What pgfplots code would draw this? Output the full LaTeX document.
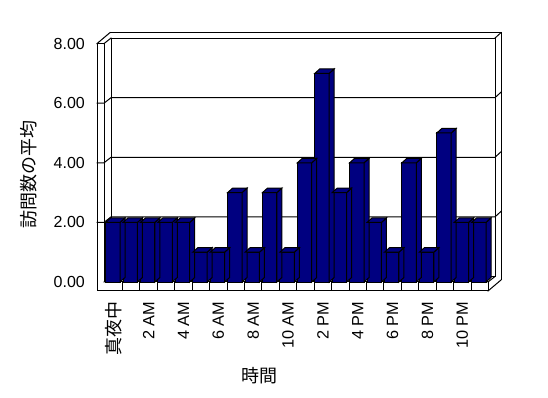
\documentclass[border=0pt]{standalone}
\usepackage{fontspec}
\setmainfont{Liberation Sans}
\newfontfamily\jp{Noto Sans CJK JP}
\usepackage{pgfplots}
\usepackage{pgfplotstable}
\pgfplotsset{compat=1.18}
\definecolor{navy}{HTML}{000080}
\pgfdeclareplotmark{nothing}{}
\pgfplotstableread{
x v
0 2
1 2
2 2
3 2
4 2
5 1
6 1
7 3
8 1
9 3
10 1
11 4
12 7
13 3
14 4
15 2
16 1
17 4
18 1
19 5
20 2
21 2
}\datatable
\begin{document}
\begin{tikzpicture}
\fill[white] (0,0) rectangle (548bp,398bp);
% walls and floor in image pixel coordinates
\begin{scope}[x=1bp,y=-1bp,shift={(0bp,398bp)},line width=1bp,line join=miter,line cap=rect]
  \draw (111,38.1) rectangle (495,276.5);
  \draw (110,32.6) -- (501,32.6);
  \draw (495,38.1) -- (501,32.6);
  \draw (501,32.6) -- (501,280);
  \draw (97,43.6) -- (97,291) -- (488,291) -- (488,282) -- (104,282) -- (104,43.6) -- cycle;
  \draw (97,43.6) -- (110,32.6);
  \draw (104,43.6) -- (111,38.1);
  \draw (104,282) -- (111,276.5);
  \draw (488,282) -- (495,276.5);
  \draw (488,291) -- (501,280);
  \foreach \v in {2,4,6} {
    \pgfmathsetmacro\yv{282-29.8*\v}
    \draw (97,\yv) -- (104,\yv) -- (111,\yv-5.5) -- (495,\yv-5.5) -- (501,\yv-11);
  }
  \foreach \k in {1,...,21} {
    \pgfmathsetmacro\xk{105+17.43*\k}
    \draw (\xk,282) -- (\xk,291);
  }
\end{scope}
\begin{axis}[
  at={(105bp,116bp)}, anchor=south west,
  x=17.43bp, y=29.8bp,
  xmin=-0.5, xmax=21.5, ymin=0, ymax=8,
  axis line style={draw=none},
  major tick length=0pt,
  xtick={0,2,...,20},
  xticklabels={{\jp\fontsize{18bp}{20bp}\selectfont 真夜中},2 AM,4 AM,6 AM,8 AM,10 AM,2 PM,4 PM,6 PM,8 PM,10 PM},
  ytick={0,2,4,6,8},
  yticklabels={0.00,2.00,4.00,6.00,8.00},
  yticklabel style={font=\fontsize{16bp}{18bp}\selectfont, anchor=east, inner sep=0pt, xshift=-20bp},
  xticklabel style={font=\fontsize{16.3bp}{18bp}\selectfont, yshift=-19.5bp, rotate=90, anchor=east, inner sep=0pt},
  clip=false,
]
\addplot[scatter, only marks, mark=nothing, point meta=y,
  visualization depends on={rawy\as\val},
  scatter/@pre marker code/.code={%
    \begingroup
    \pgfkeys{/pgf/fpu=true,/pgf/fpu/output format=fixed}%
    \pgfmathparse{\val*29.8}\global\let\barhh\pgfmathresult
    \pgfkeys{/pgf/fpu=false}%
    \path[fill=navy,draw=black,line width=1bp,line join=miter] (6.3bp,0bp) -- (6.3bp,-\barhh bp) -- (11.3bp,-\barhh bp+4.5bp) -- (11.3bp,4.5bp) -- cycle;
    \path[fill=navy,draw=black,line width=1bp,line join=miter] (-8.1bp,0bp) -- (6.3bp,0bp) -- (11.3bp,4.5bp) -- (-3.1bp,4.5bp) -- cycle;
    \endgroup
  },
  scatter/@post marker code/.code={},
] table[x=x,y=v]{\datatable};
\addplot[ybar, bar width=0.826, bar shift=-0.052, fill=navy, draw=black, line width=1bp]
  table[x=x,y=v]{\datatable};
\end{axis}
\node[rotate=90, font=\jp\fontsize{18bp}{20bp}\selectfont] at (29bp,223bp) {訪問数の平均};
\node[font=\jp\fontsize{18bp}{20bp}\selectfont] at (259.5bp,22bp) {時間};
\end{tikzpicture}
\end{document}
